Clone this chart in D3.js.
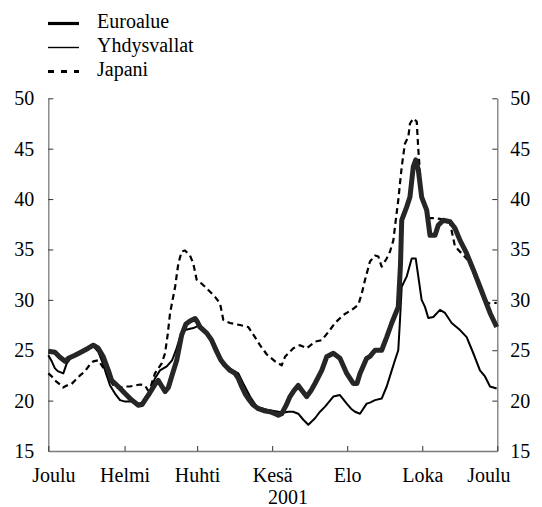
<!DOCTYPE html>
<html>
<head>
<meta charset="utf-8">
<script src="https://cdn.jsdelivr.net/npm/d3@7"></script>
<style>
  body { margin: 0; background: #fff; }
</style>
</head>
<body>
<svg id="chart" width="542" height="507"></svg>
<script>
// Period shown: 1 Dec 2000 – 1 Dec 2001, values given as [day offset from start, level]
const periodStart = Date.UTC(2000, 11, 1);
const periodEnd = Date.UTC(2001, 11, 1);
const monthTicks = [Date.UTC(2000, 11, 1), Date.UTC(2001, 1, 1), Date.UTC(2001, 3, 1),
                    Date.UTC(2001, 5, 1), Date.UTC(2001, 7, 1), Date.UTC(2001, 9, 1), Date.UTC(2001, 11, 1)];
const monthLabels = ["Joulu", "Helmi", "Huhti", "Kesä", "Elo", "Loka", "Joulu"];
const yearLabel = "2001";
const yTicks = [15, 20, 25, 30, 35, 40, 45, 50];
const seriesNames = ["Euroalue", "Yhdysvallat", "Japani"];

const euroalue = [
  [0,24.9],[5.4,24.8],[9.5,24.3],[13.6,23.9],[16.3,24.2],[21.7,24.5],[27.2,24.85],[32.5,25.2],
  [36.6,25.5],[40.6,25.2],[44.7,24.35],[48.8,23.0],[51.5,22.0],[56.9,21.4],[62.4,20.7],[67.8,20.05],
  [73.2,19.55],[76.2,19.6],[79.4,20.2],[82.7,20.8],[86.7,21.6],[89.4,22.0],[92.4,21.4],[94.9,20.9],
  [97.6,21.3],[100.3,22.4],[104.4,24.0],[108.4,26.5],[111.9,27.6],[115.2,27.9],[119.3,28.15],[121.3,27.8],
  [123.3,27.3],[128.8,26.7],[132.8,26.0],[136.9,24.85],[140.4,24.0],[143.6,23.5],[147.7,23.0],[151.8,22.7],
  [154.5,22.2],[157.2,21.4],[159.9,20.7],[162.6,20.2],[166.4,19.6],[170.7,19.2],[175.4,19.0],[180.2,18.9],
  [184.3,18.7],[187.0,18.55],[189.7,18.7],[193.2,19.5],[196.5,20.4],[199.7,21.0],[203.2,21.5],[206.2,21.0],
  [210.1,20.4],[213.6,21.0],[216.8,21.7],[222.3,23.0],[226.3,24.35],[231.7,24.7],[237.1,24.2],[242.6,22.7],
  [247.9,21.7],[250.9,21.7],[253.4,22.7],[258.8,24.2],[261.5,24.4],[265.6,25.0],[271.0,25.0],[275.1,26.3],
  [279.2,27.7],[284.5,29.3],[286.3,33.5],[287.3,37.9],[291.3,39.2],[294.0,40.2],[296.7,43.2],[298.7,43.9],
  [300.8,42.9],[303.5,40.2],[307.6,38.9],[310.3,36.4],[314.4,36.4],[317.0,37.4],[321.1,37.9],[326.6,37.75],
  [330.6,37.1],[334.7,35.9],[340.1,34.6],[345.5,33.0],[350.9,31.3],[355.0,30.0],[359.1,28.7],[364.5,27.3]
];

const yhdysvallat = [
  [0,24.5],[2.8,23.9],[5.4,23.2],[8.1,22.9],[12.2,22.7],[15.0,23.7],[19.0,24.35],[24.1,24.6],
  [29.8,25.0],[36.6,25.4],[40.6,24.85],[43.4,24.0],[47.5,22.5],[50.2,21.5],[54.2,20.7],[58.3,20.05],
  [62.4,19.9],[67.8,19.9],[73.2,19.7],[76.2,19.8],[79.4,20.4],[82.7,21.0],[86.7,22.2],[90.8,23.0],
  [96.3,23.4],[100.6,24.0],[103.8,25.0],[107.1,26.3],[111.1,27.0],[117.9,27.2],[123.3,27.5],[127.4,27.0],
  [132.8,26.2],[136.9,25.2],[140.4,24.2],[145.0,23.4],[150.2,23.0],[154.5,22.7],[158.5,21.7],[164.0,20.4],
  [169.4,19.4],[177.6,19.1],[187.0,18.9],[190.8,18.8],[195.1,18.9],[199.0,18.9],[203.2,18.7],[207.3,18.1],
  [211.4,17.6],[216.8,18.25],[220.9,18.9],[225.0,19.4],[231.7,20.4],[237.1,20.55],[242.6,19.7],[246.1,19.2],
  [249.3,18.9],[253.4,18.7],[258.8,19.7],[261.5,19.8],[265.6,20.05],[271.0,20.2],[275.1,21.4],[279.2,23.0],
  [281.8,24.0],[284.5,25.0],[285.9,28.0],[287.3,31.3],[291.3,32.3],[295.4,34.1],[298.7,34.1],[300.8,32.3],
  [303.5,30.0],[306.2,29.3],[308.9,28.2],[313.0,28.3],[318.4,29.0],[322.5,28.7],[327.9,27.7],[334.7,27.0],
  [340.1,26.3],[345.5,24.7],[350.9,23.0],[355.0,22.4],[359.1,21.4],[364.5,21.2]
];

const japani = [
  [0,22.7],[2.8,22.4],[5.4,22.0],[9.5,21.6],[12.0,21.3],[15.0,21.5],[18.5,21.6],[21.7,22.0],
  [25.8,22.5],[29.8,22.9],[33.9,23.6],[36.6,23.9],[40.6,24.0],[43.4,23.5],[46.1,23.0],[50.2,22.0],
  [54.2,21.3],[58.3,21.3],[62.4,21.4],[66.4,21.4],[70.5,21.5],[74.6,21.6],[78.6,21.5],[81.1,21.0],
  [83.5,21.5],[86.7,22.7],[89.4,23.2],[92.2,23.7],[94.9,24.7],[97.0,26.5],[99.0,28.7],[103.1,31.3],
  [105.7,33.6],[108.4,34.8],[111.1,34.9],[115.2,34.4],[117.9,33.6],[120.6,32.0],[124.7,31.6],[127.4,31.3],
  [131.5,30.8],[135.5,30.3],[139.6,29.65],[142.3,28.0],[147.7,27.7],[155.8,27.5],[162.6,27.3],[168.0,26.3],
  [172.1,25.5],[177.5,24.6],[184.3,23.9],[189.7,23.5],[192.4,24.35],[199.2,25.2],[204.6,25.5],[210.1,25.2],
  [216.8,25.85],[222.3,26.0],[227.6,26.8],[233.1,27.7],[239.8,28.5],[246.6,29.0],[252.0,29.5],[254.8,30.6],
  [257.5,32.0],[261.5,33.8],[265.6,34.4],[268.3,34.3],[271.0,33.3],[275.1,34.1],[277.8,34.8],[280.5,35.9],
  [281.8,37.25],[284.5,39.9],[287.3,43.2],[289.9,45.5],[292.7,46.2],[294.0,47.5],[296.7,48.0],[299.5,47.7],
  [300.8,44.9],[303.5,40.2],[308.9,38.1],[314.4,38.1],[321.1,38.0],[326.6,37.6],[330.6,35.3],[336.1,34.6],
  [341.5,33.9],[347.0,32.3],[352.3,30.6],[357.7,29.65],[364.5,29.7]
];

const DAY = 864e5;
const FONT = "'Liberation Serif', 'DejaVu Serif', serif";
const svg = d3.select("#chart")
  .attr("font-family", FONT)
  .attr("font-size", 20);
const plot = { left: 48.3, right: 497.3, top: 98.3, bottom: 451 };

const x = d3.scaleUtc().domain([periodStart, periodEnd]).range([plot.left, plot.right]);
const y = d3.scaleLinear().domain([15, 50]).range([plot.bottom, plot.top]);

const line = d3.line()
  .x(d => x(periodStart + d[0] * DAY))
  .y(d => y(d[1]));

const styles = {
  Euroalue:    { stroke: "#262626", width: 5,   dash: null,  lw: 3.2 },
  Yhdysvallat: { stroke: "#000",    width: 2,   dash: null,  lw: 1.4 },
  Japani:      { stroke: "#000",    width: 2.2, dash: "6,4", lw: 3 }
};
const seriesData = { Euroalue: euroalue, Yhdysvallat: yhdysvallat, Japani: japani };

// Axes: left, right and bottom, ticks pointing inward
function styleAxis(g) {
  g.attr("font-size", 20).attr("font-family", FONT);
  g.select(".domain").attr("stroke", "#7a7a7a").attr("stroke-width", 1.3);
  g.selectAll(".tick line").attr("stroke", "#333").attr("stroke-width", 1);
  g.selectAll(".tick text").attr("fill", "#000").style("font-family", FONT);
}

svg.append("g")
  .attr("transform", `translate(${plot.left},0)`)
  .call(d3.axisLeft(y).tickValues(yTicks).tickSizeInner(-5).tickSizeOuter(0).tickPadding(14))
  .call(styleAxis);

svg.append("g")
  .attr("transform", `translate(${plot.right},0)`)
  .call(d3.axisRight(y).tickValues(yTicks).tickSizeInner(-5).tickSizeOuter(0).tickPadding(13))
  .call(styleAxis);

const xAxis = svg.append("g")
  .attr("transform", `translate(0,${plot.bottom})`)
  .call(d3.axisBottom(x).tickValues(monthTicks.map(t => new Date(t)))
    .tickFormat((d, i) => monthLabels[i]).tickSizeInner(-5).tickSizeOuter(0).tickPadding(17))
  .call(styleAxis);
xAxis.selectAll(".tick text")
  .attr("dx", (d, i) => i === 0 ? 5 : (i === monthLabels.length - 1 ? -9 : 0));

svg.append("text")
  .attr("x", 288).attr("y", 504)
  .attr("text-anchor", "middle")
  .style("font-family", FONT)
  .text(yearLabel);

// Series lines, Euro area drawn last so it sits on top
["Japani", "Yhdysvallat", "Euroalue"].forEach(name => {
  const s = styles[name];
  svg.append("path")
    .datum(seriesData[name])
    .attr("fill", "none")
    .attr("stroke", s.stroke)
    .attr("stroke-width", s.width)
    .attr("stroke-linejoin", "round")
    .attr("stroke-dasharray", s.dash)
    .attr("d", line);
});

// Legend
const legend = svg.append("g");
seriesNames.forEach((name, i) => {
  const s = styles[name];
  const base = 28 + i * 24;
  legend.append("line")
    .attr("x1", 48).attr("x2", 79)
    .attr("y1", base - 4.5).attr("y2", base - 4.5)
    .attr("stroke", "#000")
    .attr("stroke-width", s.lw)
    .attr("stroke-dasharray", s.dash ? "6,7" : null);
  legend.append("text")
    .attr("x", 97).attr("y", base)
    .style("font-family", FONT)
    .text(name);
});
</script>
</body>
</html>
